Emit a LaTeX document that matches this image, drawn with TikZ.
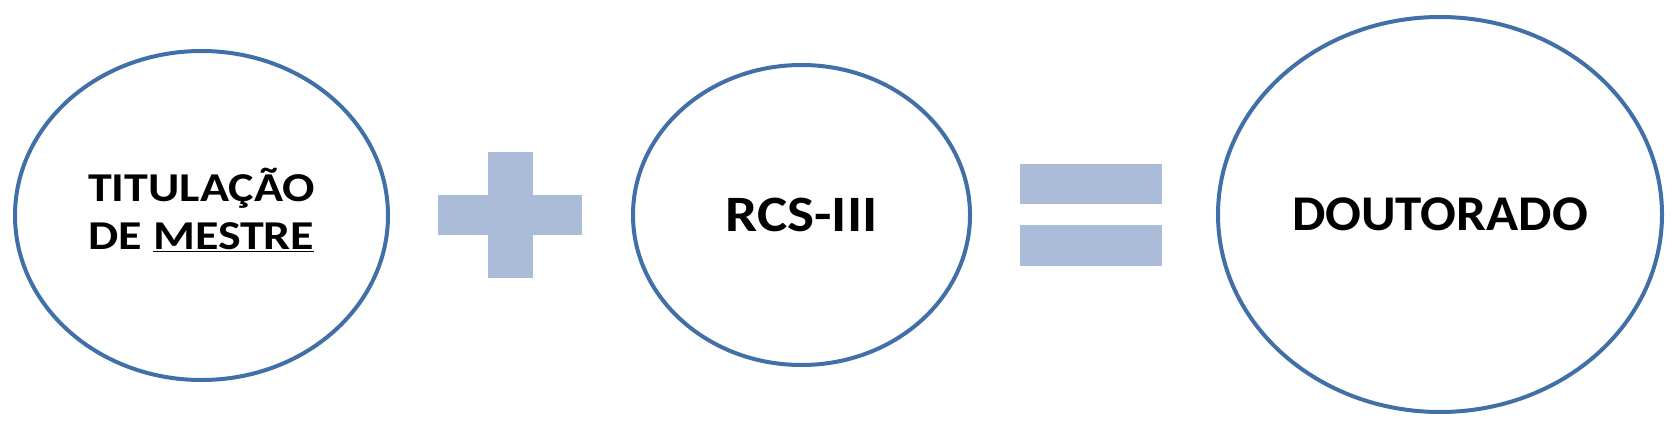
\documentclass[tikz,border=0pt]{standalone}
\usepackage{fontspec}
\setmainfont{Carlito}
\usetikzlibrary{shapes.geometric}
\definecolor{ringblue}{RGB}{65,112,168}
\definecolor{opfill}{RGB}{170,188,216}
\begin{document}
\begin{tikzpicture}[x=1pt,y=-1pt,
  ring/.style={ellipse, draw=ringblue, line width=4pt, fill=white, inner sep=0pt, font=\bfseries},
  opbar/.style={fill=opfill, draw=none}]
\fill[white] (0,0) rectangle (1680,431);
\useasboundingbox (0,0) rectangle (1680,431);
% operands
\node[ring, minimum width=373pt, minimum height=329pt] (mestre) at (201.5,215.5)
  {\fontsize{41}{48}\selectfont\scalebox{1.17}[1]{\begin{tabular}{@{}c@{}}TITULAÇÃO\\DE \underline{MESTRE}\end{tabular}}};
\node[ring, minimum width=337pt, minimum height=300pt] (rcs) at (801.5,215)
  {\fontsize{51}{60}\selectfont\scalebox{1.12}[1]{RCS-III}};
\node[ring, minimum width=444pt, minimum height=395pt] (dout) at (1440,214.5)
  {\fontsize{50}{60}\selectfont\scalebox{1.06}[1]{DOUTORADO}};
% plus sign
\fill[opbar] (438,195) rectangle (582,235);
\fill[opbar] (488,152) rectangle (533,278);
% equals sign
\fill[opbar] (1020,164) rectangle (1162,204);
\fill[opbar] (1020,225) rectangle (1162,266);
\end{tikzpicture}
\end{document}
